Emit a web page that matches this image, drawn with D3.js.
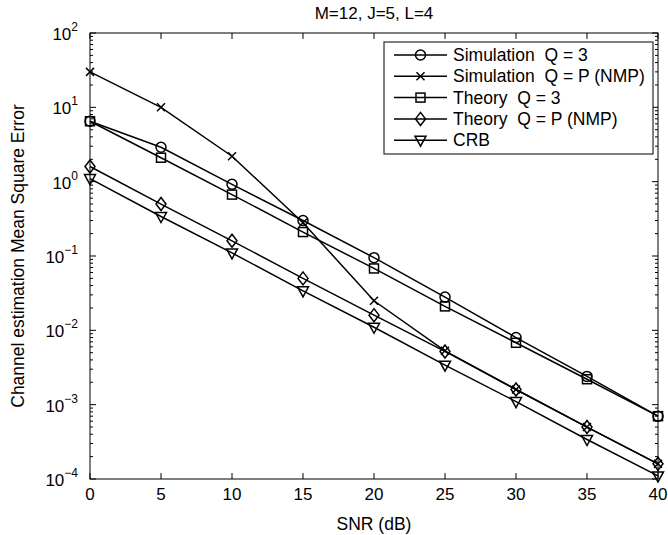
<!DOCTYPE html>
<html>
<head>
<meta charset="utf-8">
<script src="https://cdn.jsdelivr.net/npm/d3@7"></script>
<style>
  body { margin: 0; background: #fff; }
  text { font-family: "Liberation Sans", Arial, sans-serif; fill: #000; }
</style>
</head>
<body>
<div id="chart"></div>
<script>
// data
var snr = [0, 5, 10, 15, 20, 25, 30, 35, 40]
var simQ3 = [6.5, 2.9, 0.92, 0.30, 0.095, 0.028, 0.0080, 0.0024, 0.00070]
var simQP = [30, 10, 2.2, 0.28, 0.025, 0.0053, 0.0016, 0.00050, 0.00016]
var theoQ3 = [6.5, 2.1, 0.67, 0.21, 0.068, 0.021, 0.0068, 0.0022, 0.00070]
var theoQP = [1.6, 0.50, 0.16, 0.050, 0.016, 0.0052, 0.0016, 0.00050, 0.00016]
var crb = [1.1, 0.34, 0.11, 0.034, 0.011, 0.0034, 0.0011, 0.00034, 0.00011]

var seriesNames = ['Simulation  Q = 3', 'Simulation  Q = P (NMP)', 'Theory  Q = 3', 'Theory  Q = P (NMP)', 'CRB']
var seriesMarkers = ['circle', 'cross', 'square', 'diamond', 'triangle']
var seriesValues = [simQ3, simQP, theoQ3, theoQP, crb]

var xTicks = [0, 5, 10, 15, 20, 25, 30, 35, 40]
var yExps = [2, 1, 0, -1, -2, -3, -4]

var W = 668, H = 535
var margin = {top: 33, right: 10, bottom: 56, left: 90}
var width = W - margin.left - margin.right
var height = H - margin.top - margin.bottom

var x = d3.scaleLinear().domain([0, 40]).range([0, width])
var y = d3.scaleLog().domain([1e-4, 1e2]).range([height, 0])

var svg = d3.select('#chart').append('svg')
  .attr('width', W)
  .attr('height', H)

var g = svg.append('g')
  .attr('transform', 'translate(' + margin.left + ',' + margin.top + ')')

// frame
g.append('rect')
  .attr('width', width)
  .attr('height', height)
  .attr('fill', 'none')
  .attr('stroke', '#000')
  .attr('stroke-width', 1)

// x ticks, inward on bottom and top
xTicks.forEach(function(t) {
  var px = x(t)
  g.append('line').attr('x1', px).attr('x2', px).attr('y1', height).attr('y2', height - 6).attr('stroke', '#000')
  g.append('line').attr('x1', px).attr('x2', px).attr('y1', 0).attr('y2', 6).attr('stroke', '#000')
  g.append('text')
    .attr('x', px)
    .attr('y', height + 21)
    .attr('text-anchor', 'middle')
    .style('font-size', '17px')
    .text(t)
})

// y ticks, major and minor, inward on left and right
yExps.forEach(function(e) {
  var py = y(Math.pow(10, e))
  g.append('line').attr('x1', 0).attr('x2', 6).attr('y1', py).attr('y2', py).attr('stroke', '#000')
  g.append('line').attr('x1', width).attr('x2', width - 6).attr('y1', py).attr('y2', py).attr('stroke', '#000')
  var lab = g.append('text')
    .attr('x', -12)
    .attr('y', py + 7)
    .attr('text-anchor', 'end')
    .style('font-size', '17px')
  lab.append('tspan').text('10')
  lab.append('tspan')
    .attr('dy', -9)
    .style('font-size', '12px')
    .text(e < 0 ? '\u2212' + (-e) : e)
  if (e > -4) {
    for (var k = 2; k <= 9; k++) {
      var my = y(k * Math.pow(10, e - 1))
      g.append('line').attr('x1', 0).attr('x2', 3).attr('y1', my).attr('y2', my).attr('stroke', '#000')
      g.append('line').attr('x1', width).attr('x2', width - 3).attr('y1', my).attr('y2', my).attr('stroke', '#000')
    }
  }
})

function drawMarker(sel, type, cx, cy) {
  var s = sel.append('g').attr('transform', 'translate(' + cx + ',' + cy + ')')
    .attr('fill', 'none').attr('stroke', '#000').attr('stroke-width', 1.5)
  if (type === 'circle') {
    s.append('circle').attr('r', 5)
  } else if (type === 'square') {
    s.append('rect').attr('x', -4.5).attr('y', -4.5).attr('width', 9).attr('height', 9)
  } else if (type === 'diamond') {
    s.append('path').attr('d', 'M0,-6.5L5,0L0,6.5L-5,0Z')
  } else if (type === 'triangle') {
    s.append('path').attr('d', 'M-5.5,-4L5.5,-4L0,6Z')
  } else if (type === 'cross') {
    s.append('path').attr('d', 'M-4,-4L4,4M-4,4L4,-4')
  }
}

var line = d3.line()
  .x(function(d, i) { return x(snr[i]) })
  .y(function(d) { return y(d) })

seriesValues.forEach(function(vals, si) {
  g.append('path')
    .datum(vals)
    .attr('d', line)
    .attr('fill', 'none')
    .attr('stroke', '#000')
    .attr('stroke-width', 1.5)
  vals.forEach(function(v, i) {
    drawMarker(g, seriesMarkers[si], x(snr[i]), y(v))
  })
})

// legend
var lg = svg.append('g').attr('transform', 'translate(384,42)')
lg.append('rect')
  .attr('width', 269)
  .attr('height', 112)
  .attr('fill', '#fff')
  .attr('stroke', '#000')
  .attr('stroke-width', 1)
seriesNames.forEach(function(name, i) {
  var ly = 13 + i * 21.3
  lg.append('line').attr('x1', 10).attr('x2', 63).attr('y1', ly).attr('y2', ly)
    .attr('stroke', '#000').attr('stroke-width', 1.5)
  drawMarker(lg, seriesMarkers[i], 36.5, ly)
  lg.append('text')
    .attr('x', 69)
    .attr('y', ly + 6)
    .style('font-size', '17.5px')
    .style('white-space', 'pre')
    .attr('xml:space', 'preserve')
    .text(name)
})

// title and axis labels
svg.append('text')
  .attr('x', margin.left + width / 2)
  .attr('y', 19)
  .attr('text-anchor', 'middle')
  .style('font-size', '17px')
  .text('M=12, J=5, L=4')

svg.append('text')
  .attr('x', margin.left + width / 2)
  .attr('y', 530)
  .attr('text-anchor', 'middle')
  .style('font-size', '17.5px')
  .text('SNR (dB)')

svg.append('text')
  .attr('transform', 'translate(24,' + (margin.top + height / 2) + ') rotate(-90)')
  .attr('text-anchor', 'middle')
  .style('font-size', '17.5px')
  .text('Channel estimation Mean Square Error')
</script>
</body>
</html>
